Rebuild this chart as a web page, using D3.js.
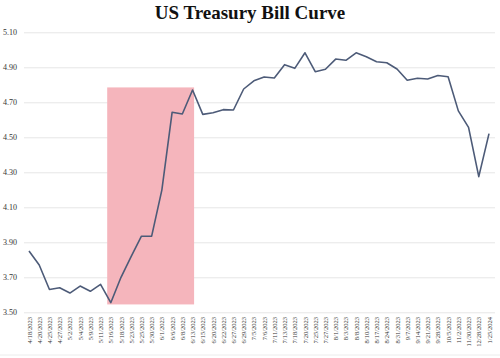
<!DOCTYPE html>
<html>
<head>
<meta charset="utf-8">
<script src="https://cdn.jsdelivr.net/npm/d3@7"></script>
<style>
  body { margin: 0; background: #fff; }
  .title { font-family: "Liberation Serif", "DejaVu Serif", serif; font-weight: bold; font-size: 19px; fill: #111; }
  .tick text { font-family: "Liberation Serif", "DejaVu Serif", serif; fill: #333; }
</style>
</head>
<body>
<div id="plot"></div>
<script>
// US Treasury Bill Curve

var dates = ["4/18/2023", "4/20/2023", "4/25/2023", "4/27/2023", "5/2/2023", "5/4/2023",
  "5/9/2023", "5/11/2023", "5/16/2023", "5/18/2023", "5/23/2023", "5/25/2023", "5/30/2023",
  "6/1/2023", "6/6/2023", "6/8/2023", "6/13/2023", "6/15/2023", "6/20/2023", "6/22/2023",
  "6/27/2023", "6/29/2023", "7/5/2023", "7/6/2023", "7/11/2023", "7/13/2023", "7/18/2023",
  "7/20/2023", "7/25/2023", "7/27/2023", "8/1/2023", "8/3/2023", "8/8/2023", "8/10/2023",
  "8/17/2023", "8/24/2023", "8/31/2023", "9/7/2023", "9/14/2023", "9/21/2023", "9/28/2023",
  "10/5/2023", "11/2/2023", "11/30/2023", "12/28/2023", "1/25/2024"];

var yields = [3.85, 3.77, 3.63, 3.64, 3.61, 3.65,
  3.62, 3.66, 3.555, 3.70, 3.82, 3.935, 3.935,
  4.20, 4.643, 4.633, 4.77, 4.631, 4.64, 4.658,
  4.656, 4.776, 4.823, 4.845, 4.839, 4.915, 4.894,
  4.983, 4.875, 4.889, 4.947, 4.94, 4.983, 4.96,
  4.932, 4.926, 4.89, 4.826, 4.837, 4.833, 4.853,
  4.846, 4.651, 4.557, 4.275, 4.521];

var yTicks = [3.5, 3.7, 3.9, 4.1, 4.3, 4.5, 4.7, 4.9, 5.1];

// highlighted window
var shadeFrom = "5/16/2023";
var shadeTo = "6/13/2023";
var shadeLow = 3.545;
var shadeHigh = 4.785;

var svgWidth = 500;
var svgHeight = 358;

var svg = d3.select("#plot")
  .append("svg")
  .attr("width", svgWidth)
  .attr("height", svgHeight);

var xScale = d3.scalePoint()
  .domain(dates)
  .range([29, 489]);

var yScale = d3.scaleLinear()
  .domain([3.5, 5.1])
  .range([312.3, 32.3]);

var step = xScale.step();

// gridlines + y labels
var leftAxis = d3.axisLeft(yScale)
  .tickValues(yTicks)
  .tickFormat(d3.format(".2f"))
  .tickSize(-(495 - 24))
  .tickPadding(7);

var yAxis = svg.append("g")
  .attr("transform", "translate(24, 0)")
  .call(leftAxis);
yAxis.select(".domain").remove();
yAxis.selectAll(".tick line").attr("stroke", "#e6e6e6").attr("stroke-width", 1);
yAxis.selectAll(".tick text").attr("font-size", 8);

// shaded box
svg.append("rect")
  .attr("x", xScale(shadeFrom) - step * 0.35)
  .attr("y", yScale(shadeHigh))
  .attr("width", xScale(shadeTo) - xScale(shadeFrom) + step * 0.5)
  .attr("height", yScale(shadeLow) - yScale(shadeHigh))
  .attr("fill", "#f5b5bc");

// line
var line = d3.line()
  .x((d, i) => xScale(dates[i]))
  .y(d => yScale(d));

svg.append("path")
  .datum(yields)
  .attr("d", line)
  .attr("fill", "none")
  .attr("stroke", "#4d5b78")
  .attr("stroke-width", 1.6)
  .attr("stroke-linejoin", "round");

// x labels
var bottomAxis = d3.axisBottom(xScale).tickSize(0).tickPadding(0);
var xAxis = svg.append("g")
  .attr("transform", "translate(0, 316)")
  .call(bottomAxis);
xAxis.select(".domain").remove();
xAxis.selectAll(".tick text")
  .attr("font-size", 6.5)
  .attr("transform", "rotate(-90)")
  .attr("text-anchor", "end")
  .attr("x", -1)
  .attr("y", 0)
  .attr("dy", "0.32em");

// bottom border
svg.append("line")
  .attr("x1", 0).attr("x2", svgWidth)
  .attr("y1", 355).attr("y2", 355)
  .attr("stroke", "#ececec");

// title
svg.append("text")
  .attr("class", "title")
  .attr("x", 250)
  .attr("y", 19)
  .attr("text-anchor", "middle")
  .text("US Treasury Bill Curve");
</script>
</body>
</html>
